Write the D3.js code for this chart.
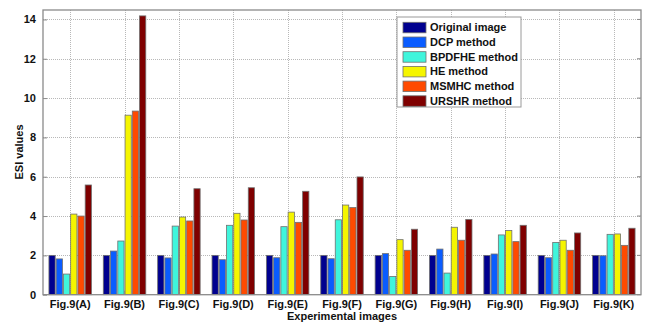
<!DOCTYPE html>
<html>
<head>
<meta charset="utf-8">
<script src="https://cdn.jsdelivr.net/npm/d3@7"></script>
<style>
  html, body { margin: 0; padding: 0; background: #fff; }
  svg { display: block; }
  text { font-family: "Liberation Sans", Arial, sans-serif; font-weight: bold; fill: #111; }
</style>
</head>
<body>
<svg id="chart" width="647" height="322"></svg>
<script>
// ESI values per experimental image, one array per method
const categories = ["Fig.9(A)", "Fig.9(B)", "Fig.9(C)", "Fig.9(D)", "Fig.9(E)", "Fig.9(F)",
                    "Fig.9(G)", "Fig.9(H)", "Fig.9(I)", "Fig.9(J)", "Fig.9(K)"];
const seriesNames = ["Original image", "DCP method", "BPDFHE method", "HE method", "MSMHC method", "URSHR method"];
const originalImage = [2.00, 2.00, 2.00, 2.00, 2.00, 2.00, 2.00, 2.00, 2.00, 2.00, 2.00];
const dcpMethod     = [1.82, 2.22, 1.87, 1.78, 1.88, 1.83, 2.09, 2.32, 2.07, 1.88, 1.98];
const bpdfheMethod  = [1.05, 2.73, 3.49, 3.53, 3.46, 3.81, 0.93, 1.10, 3.04, 2.66, 3.07];
const heMethod      = [4.10, 9.13, 3.95, 4.14, 4.20, 4.56, 2.80, 3.43, 3.27, 2.77, 3.09];
const msmhcMethod   = [4.00, 9.34, 3.75, 3.80, 3.68, 4.43, 2.26, 2.77, 2.70, 2.26, 2.51];
const urshrMethod   = [5.58, 14.18, 5.39, 5.44, 5.26, 5.99, 3.33, 3.83, 3.53, 3.14, 3.38];
const yTicks = [0, 2, 4, 6, 8, 10, 12, 14];
const colors = ["#00008f", "#0a5cff", "#3ff5dc", "#f5f500", "#ff4a00", "#7f0000"];

const series = [originalImage, dcpMethod, bpdfheMethod, heMethod, msmhcMethod, urshrMethod];

const svg = d3.select("#chart");
const plot = { left: 43, top: 10, right: 641, bottom: 294.7 };

// One slot per image; bars fill 80% of the slot
const slot = d3.scaleBand().domain(categories).range([plot.left, plot.right]);
const xc = c => slot(c) + slot.bandwidth() / 2;
const groupW = slot.bandwidth() * 0.8;
const xs = d3.scaleBand().domain(d3.range(series.length)).range([0, groupW]);
const y = d3.scaleLinear().domain([0, 14.48]).range([plot.bottom, plot.top]);

// Grid lines
const grid = svg.append("g").attr("stroke", "#b8b8b8").attr("stroke-width", 1).attr("stroke-dasharray", "1,1");
grid.selectAll("line.h").data(yTicks.filter(t => t > 0)).join("line")
  .attr("x1", plot.left).attr("x2", plot.right)
  .attr("y1", d => Math.round(y(d)) + 0.5).attr("y2", d => Math.round(y(d)) + 0.5);
grid.selectAll("line.v").data(categories).join("line")
  .attr("x1", d => Math.round(xc(d)) + 0.5).attr("x2", d => Math.round(xc(d)) + 0.5)
  .attr("y1", plot.top).attr("y2", plot.bottom);

// Bars
const groups = svg.append("g").selectAll("g").data(series).join("g")
  .attr("fill", (d, i) => colors[i]);
groups.each(function (vals, si) {
  d3.select(this).selectAll("rect").data(vals).join("rect")
    .attr("x", (v, ci) => xc(categories[ci]) - groupW / 2 + xs(si) + 0.5)
    .attr("width", xs.bandwidth() - 1)
    .attr("y", v => y(v))
    .attr("height", v => y(0) - y(v))
    .attr("stroke", "#707070")
    .attr("stroke-width", 0.8);
});

// Axes box
const axisColor = "#8a8a8a";
svg.append("rect")
  .attr("x", plot.left).attr("y", plot.top)
  .attr("width", plot.right - plot.left).attr("height", plot.bottom - plot.top)
  .attr("fill", "none").attr("stroke", axisColor).attr("stroke-width", 1.3);

// Y axis (ticks inward)
const yAxis = d3.axisLeft(y).tickValues(yTicks).tickSize(-4).tickPadding(7).tickFormat(d3.format("d"));
const gy = svg.append("g").attr("transform", `translate(${plot.left},0)`).call(yAxis);
gy.select(".domain").remove();
gy.selectAll("line").attr("stroke", axisColor);
gy.selectAll("text").attr("font-size", 11).style("font-family", "Liberation Sans, Arial, sans-serif").style("font-weight", "bold").attr("fill", "#111");
// Right-side ticks
svg.append("g").selectAll("line").data(yTicks).join("line")
  .attr("x1", plot.right).attr("x2", plot.right - 4)
  .attr("y1", d => y(d)).attr("y2", d => y(d))
  .attr("stroke", axisColor);

// X axis (ticks inward)
const xAxis = d3.axisBottom(slot).tickSize(-4).tickPadding(6);
const gx = svg.append("g").attr("transform", `translate(0,${plot.bottom})`).call(xAxis);
gx.select(".domain").remove();
gx.selectAll("line").attr("stroke", axisColor);
gx.selectAll("text").attr("font-size", 11).style("font-family", "Liberation Sans, Arial, sans-serif").style("font-weight", "bold").attr("fill", "#111");

// Axis titles
svg.append("text").attr("x", 342).attr("y", 320).attr("text-anchor", "middle")
  .attr("font-size", 11).text("Experimental images");
svg.append("text").attr("transform", "translate(23,152) rotate(-90)").attr("text-anchor", "middle")
  .attr("font-size", 11).text("ESI values");

// Legend
const lg = svg.append("g").attr("transform", "translate(397,17)");
lg.append("rect").attr("width", 124).attr("height", 90).attr("fill", "#fff")
  .attr("stroke", "#9a9a9a").attr("stroke-width", 1);
const rows = lg.selectAll("g").data(seriesNames).join("g")
  .attr("transform", (d, i) => `translate(0,${10.3 + i * 14.7})`);
rows.append("rect").attr("x", 6).attr("y", -5).attr("width", 23).attr("height", 10.5)
  .attr("fill", (d, i) => colors[i]).attr("stroke", "#707070").attr("stroke-width", 0.8);
rows.append("text").attr("x", 33).attr("y", 4).attr("font-size", 11).text(d => d);
</script>
</body>
</html>
